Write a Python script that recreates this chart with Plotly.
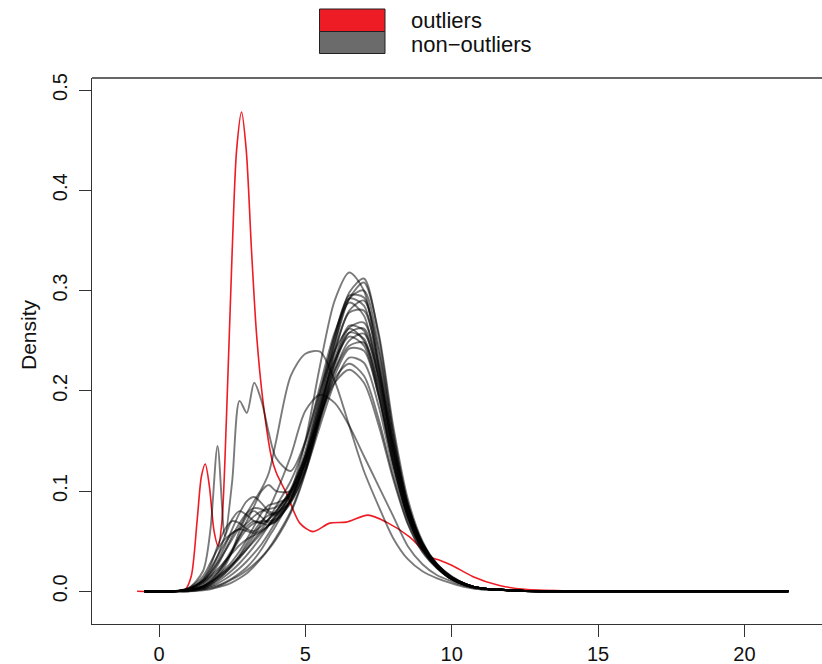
import plotly.graph_objects as go

# ---------------- data ----------------
grid_x = [-0.5, 0.5, 1.0, 1.5, 1.75, 2.0, 2.25, 2.5, 2.75, 3.0, 3.25, 3.5, 3.75, 4.0,
          4.5, 5.0, 5.5, 6.0, 6.5, 7.0, 7.5, 8.0, 8.5, 9.0, 9.5, 10.0, 10.5, 11.0,
          12.0, 13.0, 15.0, 18.0, 21.5]

non_outliers = [
    [0,0,0.003,0.010,0.015,0.022,0.030,0.038,0.046,0.052,0.056,0.060,0.066,0.075,0.100,0.150,0.225,0.290,0.318,0.300,0.225,0.140,0.080,0.045,0.025,0.013,0.006,0.003,0.001,0,0,0,0],
    [0,0,0.001,0.005,0.009,0.014,0.020,0.027,0.034,0.042,0.050,0.058,0.066,0.075,0.098,0.135,0.190,0.250,0.298,0.312,0.255,0.160,0.088,0.048,0.026,0.014,0.007,0.003,0.001,0,0,0,0],
    [0,0,0.001,0.004,0.007,0.012,0.018,0.025,0.033,0.042,0.052,0.060,0.066,0.072,0.092,0.128,0.182,0.245,0.292,0.308,0.258,0.165,0.092,0.050,0.027,0.015,0.007,0.003,0.001,0,0,0,0],
    [0,0,0.002,0.008,0.013,0.020,0.030,0.042,0.055,0.065,0.070,0.068,0.066,0.070,0.090,0.130,0.188,0.248,0.292,0.300,0.245,0.155,0.085,0.047,0.026,0.014,0.007,0.003,0.001,0,0,0,0],
    [0,0,0.001,0.004,0.008,0.015,0.025,0.040,0.060,0.075,0.080,0.074,0.068,0.070,0.092,0.135,0.195,0.255,0.295,0.293,0.232,0.148,0.083,0.046,0.025,0.013,0.006,0.003,0.001,0,0,0,0],
    [0,0,0.001,0.003,0.005,0.008,0.012,0.017,0.023,0.030,0.038,0.047,0.058,0.070,0.098,0.140,0.198,0.255,0.292,0.285,0.222,0.140,0.078,0.043,0.024,0.012,0.006,0.003,0.001,0,0,0,0],
    [0,0,0.002,0.012,0.022,0.035,0.048,0.058,0.062,0.060,0.058,0.062,0.072,0.085,0.110,0.148,0.205,0.258,0.288,0.275,0.212,0.135,0.077,0.043,0.024,0.012,0.006,0.003,0.001,0,0,0,0],
    [0,0,0.000,0.002,0.003,0.005,0.008,0.012,0.016,0.021,0.027,0.034,0.043,0.054,0.080,0.120,0.178,0.238,0.278,0.280,0.228,0.148,0.084,0.047,0.026,0.014,0.007,0.003,0.001,0,0,0,0],
    [0,0,0.002,0.010,0.018,0.030,0.045,0.062,0.078,0.090,0.094,0.088,0.080,0.078,0.095,0.130,0.182,0.232,0.265,0.260,0.208,0.135,0.078,0.044,0.025,0.013,0.006,0.003,0.001,0,0,0,0],
    [0,0,0.001,0.006,0.011,0.018,0.028,0.040,0.055,0.070,0.085,0.100,0.106,0.100,0.100,0.128,0.175,0.225,0.258,0.262,0.215,0.142,0.082,0.046,0.026,0.014,0.007,0.003,0.001,0,0,0,0],
    [0,0,0.003,0.020,0.060,0.145,0.055,0.110,0.190,0.178,0.208,0.190,0.158,0.133,0.120,0.150,0.200,0.240,0.262,0.250,0.198,0.128,0.074,0.042,0.024,0.012,0.006,0.003,0.001,0,0,0,0],
    [0,0,0.001,0.005,0.009,0.015,0.022,0.030,0.040,0.052,0.065,0.078,0.086,0.088,0.095,0.125,0.172,0.220,0.250,0.257,0.215,0.145,0.085,0.048,0.027,0.014,0.007,0.003,0.001,0,0,0,0],
    [0,0,0.002,0.012,0.025,0.045,0.062,0.070,0.068,0.062,0.060,0.065,0.072,0.080,0.100,0.135,0.185,0.230,0.254,0.245,0.195,0.127,0.074,0.042,0.024,0.012,0.006,0.003,0.001,0,0,0,0],
    [0,0,0.000,0.002,0.004,0.006,0.009,0.013,0.018,0.024,0.032,0.042,0.054,0.066,0.092,0.128,0.175,0.220,0.245,0.248,0.205,0.137,0.080,0.046,0.026,0.014,0.007,0.003,0.001,0,0,0,0],
    [0,0,0.001,0.008,0.015,0.026,0.040,0.055,0.068,0.078,0.083,0.082,0.078,0.076,0.090,0.122,0.170,0.215,0.242,0.240,0.195,0.128,0.075,0.043,0.025,0.013,0.006,0.003,0.001,0,0,0,0],
    [0,0,0.001,0.004,0.007,0.012,0.018,0.026,0.036,0.048,0.060,0.070,0.076,0.078,0.090,0.120,0.165,0.208,0.233,0.228,0.185,0.122,0.072,0.042,0.024,0.013,0.006,0.003,0.001,0,0,0,0],
    [0,0,0.002,0.010,0.020,0.035,0.055,0.072,0.080,0.076,0.070,0.068,0.072,0.080,0.100,0.132,0.175,0.212,0.227,0.215,0.172,0.115,0.068,0.040,0.023,0.012,0.006,0.003,0.001,0,0,0,0],
    [0,0,0.001,0.003,0.006,0.010,0.015,0.021,0.028,0.036,0.045,0.055,0.066,0.078,0.102,0.135,0.175,0.208,0.221,0.208,0.166,0.112,0.067,0.039,0.023,0.012,0.006,0.003,0.001,0,0,0,0],
    [0,0,0.002,0.010,0.018,0.028,0.040,0.052,0.064,0.078,0.090,0.102,0.118,0.150,0.215,0.237,0.239,0.210,0.165,0.120,0.085,0.053,0.032,0.020,0.013,0.008,0.004,0.002,0.001,0,0,0,0],
    [0,0,0.001,0.005,0.009,0.014,0.020,0.027,0.035,0.045,0.056,0.068,0.082,0.098,0.135,0.180,0.196,0.188,0.165,0.135,0.105,0.075,0.045,0.027,0.016,0.010,0.005,0.002,0.001,0,0,0,0],
    [0,0,0.000,0.001,0.002,0.004,0.006,0.009,0.013,0.018,0.025,0.033,0.042,0.052,0.078,0.118,0.172,0.228,0.263,0.268,0.222,0.148,0.086,0.048,0.027,0.014,0.007,0.003,0.001,0,0,0,0],
    [0,0,0.001,0.005,0.010,0.018,0.028,0.040,0.052,0.062,0.068,0.070,0.070,0.072,0.088,0.122,0.178,0.240,0.280,0.290,0.240,0.155,0.087,0.048,0.026,0.014,0.007,0.003,0.001,0,0,0,0],
    [0,0,0.003,0.015,0.028,0.042,0.052,0.058,0.062,0.068,0.075,0.080,0.082,0.084,0.098,0.130,0.180,0.228,0.258,0.252,0.200,0.130,0.075,0.043,0.024,0.012,0.006,0.003,0.001,0,0,0,0],
]

outlier_x = [-0.75, 0.5, 0.9, 1.1, 1.3, 1.45, 1.58, 1.72, 1.88, 2.02, 2.15, 2.3, 2.5, 2.65,
             2.82, 2.98, 3.16, 3.33, 3.55, 3.84, 4.01, 4.35, 4.81, 5.26, 5.83, 6.4, 7.14,
             7.77, 8.57, 9.25, 9.59, 10.0, 10.73, 11.6, 12.5, 14.0, 16.0, 19.2]
outlier_y = [0, 0, 0.002, 0.015, 0.07, 0.115, 0.127, 0.105, 0.06, 0.045, 0.07, 0.17, 0.34, 0.44,
             0.478, 0.44, 0.34, 0.257, 0.19, 0.134, 0.118, 0.098, 0.068, 0.0595, 0.068, 0.069, 0.076,
             0.069, 0.054, 0.0345, 0.031, 0.026, 0.0146, 0.006, 0.002, 0.0005, 0, 0]

x_ticks = [0, 5, 10, 15, 20]
y_ticks = [0.0, 0.1, 0.2, 0.3, 0.4, 0.5]
y_tick_text = ["0.0", "0.1", "0.2", "0.3", "0.4", "0.5"]
legend_labels = ["outliers", "non\u2212outliers"]

# ---------------- style ----------------
W, H = 822, 664
L, R, T, B = 92, 0, 78, 40
RED = "#ee1c25"
GRAY_FILL = "#6b6b6b"
FONT = "Liberation Sans, Arial, Helvetica, sans-serif"

pw, ph = W - L - R, H - T - B
def px2paper(x, y):
    return (x - L) / pw, (H - B - y) / ph

fig = go.Figure()
fig.add_trace(go.Scatter(x=outlier_x, y=outlier_y, mode="lines",
                         line=dict(color=RED, width=1.6, shape="spline", smoothing=0.8),
                         hoverinfo="skip", showlegend=False))
for ys in non_outliers:
    fig.add_trace(go.Scatter(x=grid_x, y=ys, mode="lines",
                             line=dict(color="rgba(0,0,0,0.52)", width=1.9, shape="spline", smoothing=0.8),
                             hoverinfo="skip", showlegend=False))

shapes = []
shapes.append(dict(type="line", xref="paper", yref="paper", x0=0, x1=1, y0=1, y1=1,
                   line=dict(color="#333333", width=1.3)))
for i, col in enumerate([RED, GRAY_FILL]):
    x0, ytop = px2paper(319.5, 9 + 22.5 * i)
    x1, ybot = px2paper(385, 31.5 + 22 * i)
    shapes.append(dict(type="rect", xref="paper", yref="paper", x0=x0, x1=x1, y0=ybot, y1=ytop,
                       fillcolor=col, line=dict(color="#222222", width=1)))

annotations = []
for i, lab in enumerate(legend_labels):
    ax, ay = px2paper(409, 21 + 23 * i)
    annotations.append(dict(text=lab, xref="paper", yref="paper", x=ax, y=ay,
                            xanchor="left", yanchor="middle", showarrow=False,
                            font=dict(family=FONT, size=22, color="#111111")))
dx, dy = px2paper(28, 335)
annotations.append(dict(text="Density", xref="paper", yref="paper", x=dx, y=dy,
                        xanchor="center", yanchor="middle", textangle=-90, showarrow=False,
                        font=dict(family=FONT, size=21, color="#111111")))

fig.update_layout(
    width=W, height=H, margin=dict(l=L, r=R, t=T, b=B, autoexpand=False),
    plot_bgcolor="white", paper_bgcolor="white",
    font=dict(family=FONT, size=20, color="#111111"),
    shapes=shapes, annotations=annotations, showlegend=False,
    xaxis=dict(range=[-2.29, 22.65], tickvals=x_ticks, showgrid=False, zeroline=False,
               showline=True, linecolor="#333333", linewidth=1.3, automargin=False,
               ticks="outside", ticklen=12, tickwidth=1.3, tickcolor="#333333",
               ticklabelstandoff=0),
    yaxis=dict(range=[-0.0326, 0.512], tickvals=y_ticks, ticktext=y_tick_text,
               showgrid=False, zeroline=False, tickangle=-90, automargin=False,
               showline=True, linecolor="#333333", linewidth=1.3,
               ticks="outside", ticklen=12, tickwidth=1.3, tickcolor="#333333",
               ticklabelstandoff=4),
)

fig.write_html("out.html", config={"displayModeBar": False},
               post_script="document.body.style.margin='0';document.body.style.overflow='hidden';")
